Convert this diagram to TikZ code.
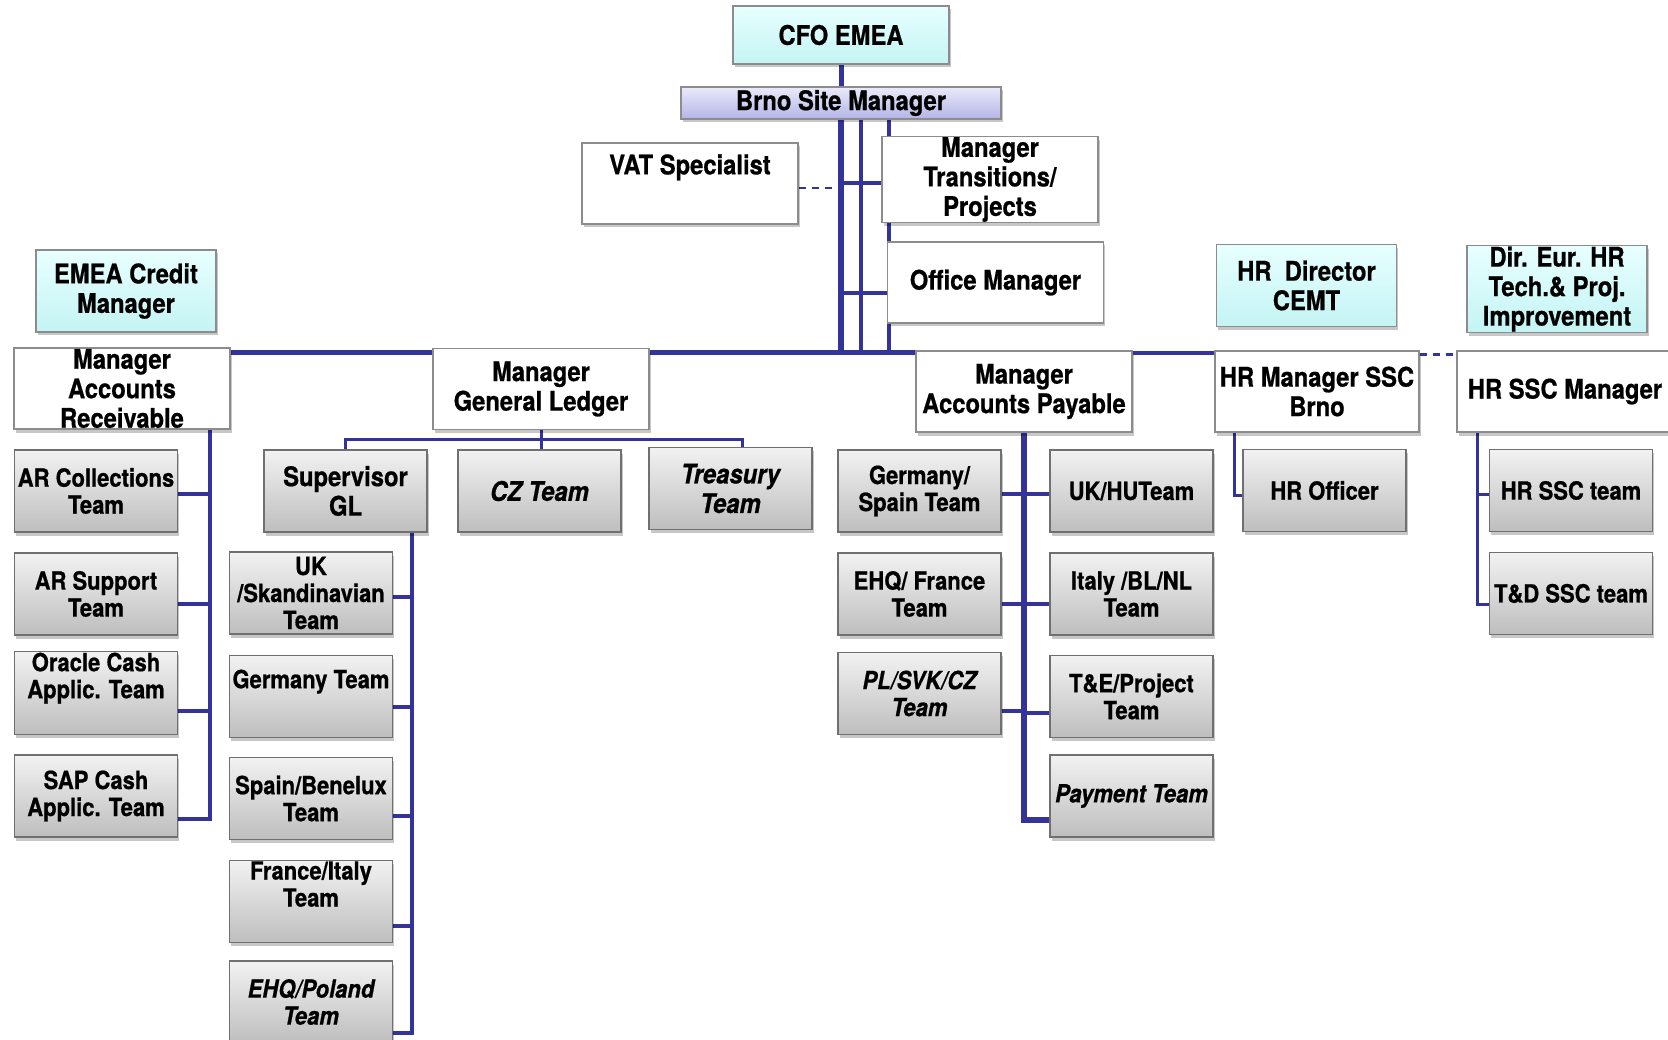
\documentclass[tikz,border=0pt]{standalone}
\usepackage{fontspec}
\setmainfont{TeX Gyre Heros}[FakeStretch=0.88,FakeBold=0.7]
\usetikzlibrary{shadows,backgrounds,calc}

\begin{document}
\begin{tikzpicture}[x=1pt,y=-1pt,
	box/.style={draw=boxline,line width=1.4pt,fill=white,align=center,inner sep=1pt,minimum width=216pt,minimum height=81pt,font=\fontsize{27}{29.5}\selectfont\bfseries,drop shadow={shadow xshift=1.5pt,shadow yshift=-3.5pt,fill=black,opacity=0.22}},
	boss/.style={box,top color=cyanlight,bottom color=cyandark,minimum width=180pt,minimum height=82pt},
	team/.style={box,draw=teamline,top color=graylight,bottom color=graydark,minimum width=163pt,minimum height=82pt,font=\fontsize{25}{27}\selectfont\bfseries},
	big/.style={font=\fontsize{27}{29.5}\selectfont\bfseries},
	slant/.style={font=\fontsize{25}{27}\selectfont\bfseries\itshape},
	bigslant/.style={font=\fontsize{27}{29.5}\selectfont\bfseries\itshape},
	conn/.style={draw=linkblue,line width=4pt},
	dashlink/.style={draw=linkblue,line width=2.5pt,dash pattern=on 7pt off 6pt}]
					\definecolor{linkblue}{HTML}{333399}
					\definecolor{boxline}{HTML}{8C8C8C}
					\definecolor{teamline}{HTML}{707070}
					\definecolor{graylight}{HTML}{F2F2F2}
					\definecolor{graydark}{HTML}{BEBEBE}
					\definecolor{cyanlight}{HTML}{E8FFFF}
					\definecolor{cyandark}{HTML}{C4F4F4}
					\definecolor{lavlight}{HTML}{EAEAFA}
					\definecolor{lavdark}{HTML}{B4B4E8}
					\useasboundingbox (0,0) rectangle (1668,1040);

					\node[box,minimum height=58pt,top color=cyanlight,bottom color=cyandark] (cfo) at (841,35) {CFO EMEA};
					\node[box,minimum width=320pt,minimum height=32pt,inner sep=0pt,top color=lavlight,bottom color=lavdark] (brno) at (841,103) {Brno Site Manager};
					\node[box] (vat) at (690,183.5) {VAT Specialist\\\strut};
					\node[box] (mtp) at (990,179.5) {Manager\\Transitions/\\Projects};
					\node[box] (office) at (995.5,282.5) {Office Manager};

					\node[boss] (credit) at (126,291) {EMEA Credit\\Manager};
					\node[boss] (hrdir) at (1306.5,285.5) {HR\ \ Director\\CEMT};
					\node[boss] (direur) at (1557,289) {Dir. Eur. HR\\Tech.\& Proj.\\Improvement};

					\node[box] (mar) at (122,388.5) {Manager\\Accounts\\Receivable};
					\node[box] (mgl) at (541,389) {Manager\\General Ledger};
					\node[box] (map) at (1024,391.5) {Manager\\Accounts Payable};
					\node[box,minimum width=204pt] (hrmgr) at (1317,391.5) {HR Manager SSC\\Brno};
					\node[box] (hrssc) at (1565,391.5) {HR SSC Manager};

					\node[team] (arcol) at (96,491) {AR Collections\\Team};
					\node[team] (arsup) at (96,594) {AR Support\\Team};
					\node[team] (oracle) at (96,693) {Oracle Cash\\Applic. Team\\\strut};
					\node[team] (sap) at (96,796) {SAP Cash\\Applic. Team};

					\node[team,big] (supgl) at (345.5,491) {Supervisor\\GL};
					\node[team,bigslant] (cz) at (539.5,491) {CZ Team};
					\node[team,bigslant] (treas) at (730.5,488.5) {Treasury\\Team};
					\node[team] (ukskan) at (311,593) {UK\\/Skandinavian\\Team};
					\node[team] (germ) at (311,696.5) {Germany Team\\\strut};
					\node[team] (spben) at (311,798.5) {Spain/Benelux\\Team};
					\node[team] (frit) at (311,901.5) {France/Italy\\Team\\\strut};
					\node[team,slant] (ehqpl) at (311,1002) {EHQ/Poland\\Team};

					\node[team] (gesp) at (919.5,491) {Germany/\\Spain Team};
					\node[team] (ehqfr) at (919.5,594) {EHQ/ France\\Team};
					\node[team,slant] (plsvk) at (919.5,693.5) {PL/SVK/CZ\\Team};
					\node[team] (ukhu) at (1131.5,491) {UK/HUTeam};
					\node[team] (itbl) at (1131.5,594) {Italy /BL/NL\\Team};
					\node[team] (tep) at (1131.5,696.5) {T\&E/Project\\Team};
					\node[team,slant] (pay) at (1131.5,796) {Payment Team};

					\node[team] (hroff) at (1324.5,490.5) {HR Officer};
					\node[team] (hrteam) at (1571,490.5) {HR SSC team};
					\node[team] (tdteam) at (1571,593.5) {T\&D SSC team};

					\begin{scope}[on background layer]
						\coordinate (bus) at (841,353);
						\draw[conn,line width=5pt] (cfo.south) -- (brno.north);
						\draw[conn,line width=6pt] (brno.south) -- (bus);
						\draw[conn] ([xshift=20pt]brno.south) -- ([xshift=20pt]bus);
						\draw[conn] ([xshift=48pt]brno.south) -- ([xshift=48pt]bus);
						\draw[conn,line width=5pt] (mar.east |- bus) -- (bus -| map.west);
						\draw[conn] ($(brno.south |- mtp.west)+(0,3.5)$) -- ([yshift=-3.5pt]mtp.west);
						\draw[conn] ($(brno.south |- office.west)+(0,10.5)$) -- ([yshift=-10.5pt]office.west);
						\draw[dashlink] ([yshift=-4.5pt]vat.east) -- ($(vat.east -| brno.south)+(0,4.5)$);

						\coordinate (artop) at ([xshift=-21pt]mar.south east);
						\foreach \n/\s in {arcol/3,arsup/10,oracle/18,sap/23}
							\draw[conn] (artop) |- ([yshift=-\s pt]\n.east);

						\coordinate (glbar) at ($(mgl.south)+(0,9)$);
						\draw[conn,line width=3pt] (mgl.south) -- (mgl.south |- cz.north);
						\draw[conn,line width=3pt] (supgl.north) |- (glbar) -| ([xshift=12pt]treas.north);
						\coordinate (gltop) at ([xshift=-16pt]supgl.south east);
						\foreach \n/\s in {ukskan/4,germ/10.5,spben/17.5,frit/24.5,ehqpl/31}
							\draw[conn] (gltop) |- ([yshift=-\s pt]\n.east);

						\draw[conn,line width=5.5pt] (map.south) |- ([yshift=-24pt]pay.west);
						\foreach \n/\s in {gesp/3,ehqfr/10,plsvk/17.5}
							\draw[conn] (map.south) |- ([yshift=-\s pt]\n.east);
						\foreach \n/\s in {ukhu/3,itbl/10,tep/16.5}
							\draw[conn] (map.south) |- ([yshift=-\s pt]\n.west);

						\draw[conn] ([yshift=-3pt]map.north east) -- ([yshift=-3pt]hrmgr.north west);
						\draw[dashlink] ([yshift=-4pt]hrmgr.north east) -- ([yshift=-4pt]hrssc.north west);
						\draw[conn,line width=3pt] ([xshift=20pt]hrmgr.south west) |- ([yshift=-4.5pt]hroff.west);
						\foreach \n/\s in {hrteam/3.5,tdteam/10.5}
							\draw[conn,line width=3pt] ([xshift=21pt]hrssc.south west) |- ([yshift=-\s pt]\n.west);
					\end{scope}
				\end{tikzpicture}
\end{document}
